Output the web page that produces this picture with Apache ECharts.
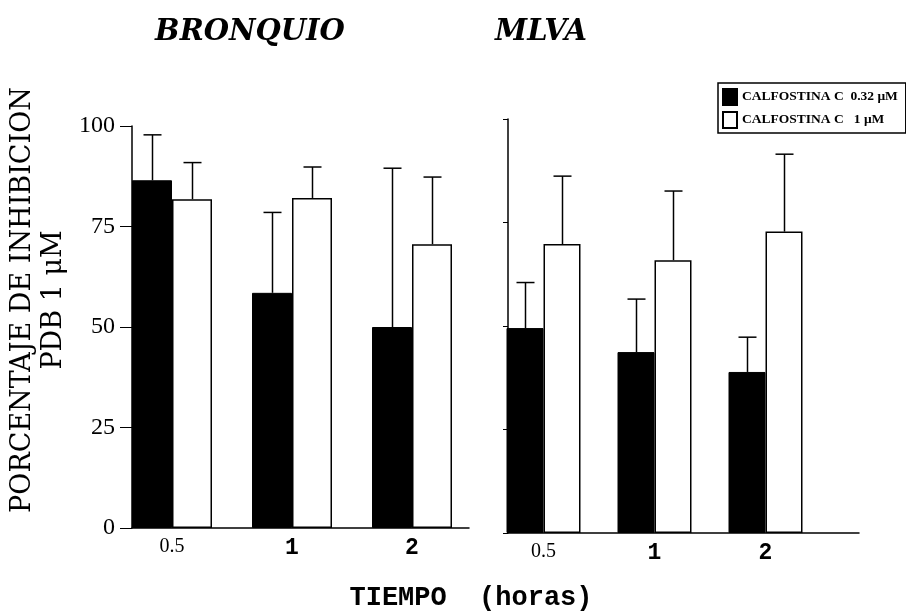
<!DOCTYPE html>
<html>
<head>
<meta charset="utf-8">
<script src="https://cdn.jsdelivr.net/npm/echarts@6/dist/echarts.min.js"></script>
<style>
html,body{margin:0;padding:0;background:#fff;}
#chart{width:906px;height:612px;}
</style>
</head>
<body>
<div id="chart"></div>
<script>
// datos
var categorias = ['0.5', '1', '2'];
var nombreBajo = 'CALFOSTINA C  0.32 μM';
var nombreAlto = 'CALFOSTINA C   1 μM';
// BRONQUIO
var bronquioBajo = [86.5, 58.5, 50];
var bronquioBajoSd = [11.3, 20, 39.5];
var bronquioAlto = [81.8, 82.1, 70.6];
var bronquioAltoSd = [9.1, 7.7, 16.7];
// MLVA
var mlvaBajo = [49.5, 43.7, 38.9];
var mlvaBajoSd = [11, 12.8, 8.4];
var mlvaAlto = [69.8, 65.9, 72.8];
var mlvaAltoSd = [16.4, 16.7, 18.7];

var serif = '"Liberation Serif", "Times New Roman", serif';
var serifAncha = '"DejaVu Serif", serif';

function errData(vals, sds){
  var out = [];
  for (var i = 0; i < vals.length; i++) out.push([i, vals[i], vals[i] + sds[i]]);
  return out;
}

// barra de error solo hacia arriba
function errRender(offset, cap){
  return function(params, api){
    var base = api.coord([api.value(0), api.value(1)]);
    var top = api.coord([api.value(0), api.value(2)]);
    var x = Math.round(base[0] + offset) + 0.5;
    return {
      type: 'group',
      children: [
        {type: 'line', shape: {x1: x, y1: base[1], x2: x, y2: top[1]}, style: {stroke: '#000', lineWidth: 1.5}},
        {type: 'line', shape: {x1: x - cap / 2, y1: top[1], x2: x + cap / 2, y2: top[1]}, style: {stroke: '#000', lineWidth: 1.5}}
      ]
    };
  };
}

var catLabel = {
  margin: 9,
  formatter: function(v){ return v === '0.5' ? '{a|0.5}' : '{b|' + v + '}'; },
  rich: {
    a: {fontFamily: serif, fontSize: 20, color: '#000'},
    b: {fontFamily: '"Liberation Mono", monospace', fontWeight: 'bold', fontSize: 23, color: '#000'}
  }
};

var myChart = echarts.init(document.getElementById('chart'));

myChart.setOption({
  backgroundColor: '#fff',
  animation: false,
  title: [
    {text: 'BRONQUIO', left: 245, top: 13, textAlign: 'center',
     textStyle: {fontFamily: serifAncha, fontStyle: 'italic', fontWeight: 'bold', fontSize: 29, color: '#000'}},
    {text: 'MLVA', left: 536, top: 13, textAlign: 'center',
     textStyle: {fontFamily: serifAncha, fontStyle: 'italic', fontWeight: 'bold', fontSize: 29, color: '#000'}},
    {text: 'TIEMPO  (horas)', left: 466, top: 580, textAlign: 'center',
     textStyle: {fontFamily: '"Liberation Mono", monospace', fontWeight: 'bold', fontSize: 27, color: '#000'}}
  ],
  legend: {
    orient: 'vertical',
    left: 718, top: 83,
    itemWidth: 14, itemHeight: 16, itemGap: 5,
    padding: [5, 8, 4, 4],
    borderColor: '#000', borderWidth: 1.5,
    icon: 'rect',
    data: [nombreBajo, nombreAlto],
    textStyle: {fontFamily: serif, fontWeight: 'bold', fontSize: 13.5, color: '#000'}
  },
  graphic: [
    {type: 'text', x: 38, y: 300, rotation: Math.PI / 2,
     style: {text: 'PORCENTAJE DE INHIBICION\nPDB 1 μM', textAlign: 'center', textVerticalAlign: 'middle',
             font: '27px "DejaVu Serif", serif', lineHeight: 31, fill: '#000'}}
  ],
  grid: [
    // barras bronquio
    {left: 112, right: 434, top: 126, bottom: 84},
    // marco bronquio
    {left: 132, right: 437, top: 126, bottom: 84},
    // barras mlva
    {left: 488, right: 85, top: 119, bottom: 79},
    // marco mlva
    {left: 508, right: 47, top: 119, bottom: 79}
  ],
  xAxis: [
    {gridIndex: 0, type: 'category', data: categorias, axisLine: {show: false}, axisTick: {show: false}, axisLabel: catLabel},
    {gridIndex: 1, type: 'value', min: 0, max: 1, axisLine: {lineStyle: {color: '#000', width: 1.5}},
     axisTick: {show: false}, axisLabel: {show: false}, splitLine: {show: false}},
    {gridIndex: 2, type: 'category', data: categorias, axisLine: {show: false}, axisTick: {show: false}, axisLabel: catLabel},
    {gridIndex: 3, type: 'value', min: 0, max: 1, axisLine: {lineStyle: {color: '#000', width: 1.5}},
     axisTick: {show: false}, axisLabel: {show: false}, splitLine: {show: false}}
  ],
  yAxis: [
    {gridIndex: 0, type: 'value', min: 0, max: 100, show: false},
    {gridIndex: 1, type: 'value', min: 0, max: 100, interval: 25,
     axisLine: {show: true, lineStyle: {color: '#000', width: 1.5}},
     axisTick: {show: true, length: 12, lineStyle: {color: '#000', width: 1}},
     axisLabel: {margin: 17, fontFamily: serif, fontSize: 24, color: '#000'},
     splitLine: {show: false}},
    {gridIndex: 2, type: 'value', min: 0, max: 100, show: false},
    {gridIndex: 3, type: 'value', min: 0, max: 100, interval: 25,
     axisLine: {show: true, lineStyle: {color: '#000', width: 1.5}},
     axisTick: {show: true, length: 5, lineStyle: {color: '#000', width: 1}},
     axisLabel: {show: false},
     splitLine: {show: false}}
  ],
  series: [
    {name: nombreBajo, type: 'bar', xAxisIndex: 0, yAxisIndex: 0, data: bronquioBajo, barWidth: 40, barGap: '0%',
     itemStyle: {color: '#000', borderColor: '#000', borderWidth: 1}},
    {name: nombreAlto, type: 'bar', xAxisIndex: 0, yAxisIndex: 0, data: bronquioAlto, barWidth: 40, barGap: '0%',
     itemStyle: {color: '#fff', borderColor: '#000', borderWidth: 1.5}},
    {name: nombreBajo, type: 'bar', xAxisIndex: 2, yAxisIndex: 2, data: mlvaBajo, barWidth: 37, barGap: '0%',
     itemStyle: {color: '#000', borderColor: '#000', borderWidth: 1}},
    {name: nombreAlto, type: 'bar', xAxisIndex: 2, yAxisIndex: 2, data: mlvaAlto, barWidth: 37, barGap: '0%',
     itemStyle: {color: '#fff', borderColor: '#000', borderWidth: 1.5}},
    {type: 'custom', xAxisIndex: 0, yAxisIndex: 0, data: errData(bronquioBajo, bronquioBajoSd), renderItem: errRender(-20, 18), z: 5},
    {type: 'custom', xAxisIndex: 0, yAxisIndex: 0, data: errData(bronquioAlto, bronquioAltoSd), renderItem: errRender(20, 18), z: 5},
    {type: 'custom', xAxisIndex: 2, yAxisIndex: 2, data: errData(mlvaBajo, mlvaBajoSd), renderItem: errRender(-18.5, 18), z: 5},
    {type: 'custom', xAxisIndex: 2, yAxisIndex: 2, data: errData(mlvaAlto, mlvaAltoSd), renderItem: errRender(18.5, 18), z: 5}
  ]
});
</script>
</body>
</html>
